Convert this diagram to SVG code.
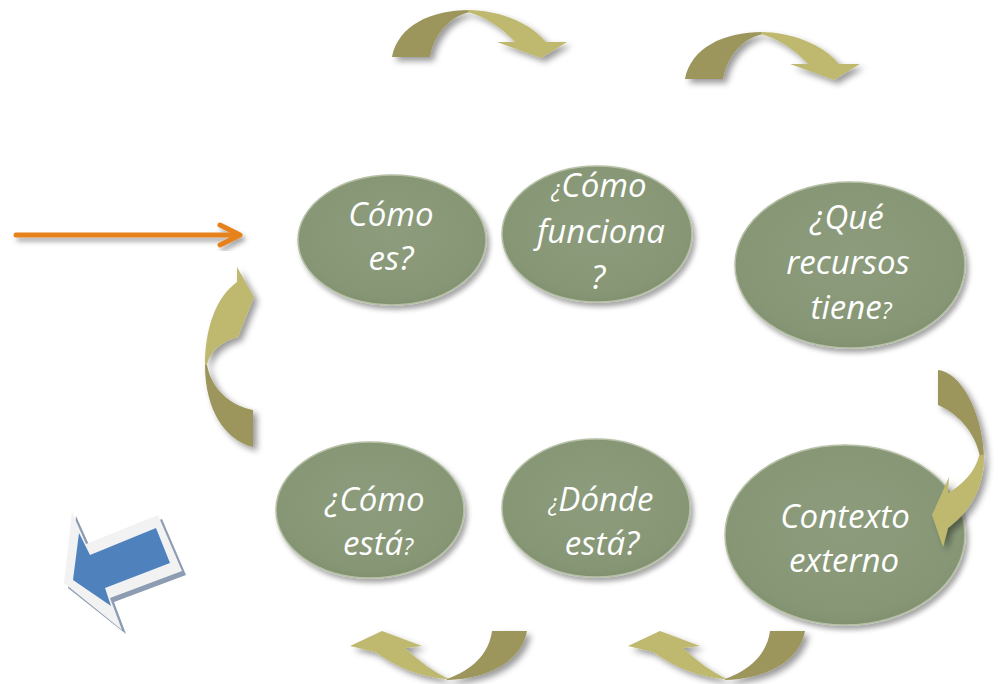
<svg xmlns="http://www.w3.org/2000/svg" width="998" height="684" viewBox="0 0 998 684">
<defs>
  <radialGradient id="eg" cx="50%" cy="45%" r="60%">
    <stop offset="0" stop-color="#8c9c7c"/>
    <stop offset="0.8" stop-color="#879776"/>
    <stop offset="1" stop-color="#7e8e6c"/>
  </radialGradient>
  <filter id="sh" x="-20%" y="-20%" width="150%" height="150%">
    <feDropShadow dx="3" dy="4" stdDeviation="2.5" flood-color="#000" flood-opacity="0.35"/>
  </filter>
  <filter id="ash" x="-30%" y="-30%" width="170%" height="170%">
    <feDropShadow dx="4" dy="4" stdDeviation="3" flood-color="#000" flood-opacity="0.4"/>
  </filter>
  <style>
    .node ellipse { fill: url(#eg); stroke: #b6c0a6; stroke-width: 1.5; filter: url(#sh); }
    .node text { font-family: "Open Sans", "Noto Sans", sans-serif; font-style: italic; font-size: 33px; fill: #ffffff; text-anchor: middle; }
    .sm { font-size: 23px; }
    .dk { fill: #9d965c; }
    .lt { fill: #bfb970; }
  </style>
</defs>

<g id="n1" class="node">
  <ellipse cx="392" cy="240" rx="94" ry="65"/>
  <text x="391" y="226">Cómo</text>
  <text x="391" y="270">es?</text>
</g>
<g id="n2" class="node">
  <ellipse cx="597" cy="234" rx="95" ry="68"/>
  <text x="599" y="197"><tspan class="sm">¿</tspan>Cómo</text>
  <text x="601" y="243">funciona</text>
  <text x="598" y="289">?</text>
</g>
<g id="n3" class="node">
  <ellipse cx="850" cy="265" rx="115" ry="83"/>
  <text x="847" y="229">¿Qué</text>
  <text x="848" y="274">recursos</text>
  <text x="851" y="319">tiene<tspan class="sm">?</tspan></text>
</g>
<g id="n4" class="node">
  <ellipse cx="370" cy="510" rx="94" ry="68"/>
  <text x="375" y="511">¿Cómo</text>
  <text x="378" y="555">está<tspan class="sm">?</tspan></text>
</g>
<g id="n5" class="node">
  <ellipse cx="596" cy="508" rx="94" ry="69"/>
  <text x="601" y="511"><tspan class="sm">¿</tspan>Dónde</text>
  <text x="602" y="555">está?</text>
</g>
<g id="n6" class="node">
  <ellipse cx="845" cy="535" rx="120" ry="90"/>
  <text x="845" y="528">Contexto</text>
  <text x="844" y="572">externo</text>
</g>

<g id="connectors">
  <g id="arrow-top-1" filter="url(#ash)">
    <path class="dk" d="M392,57 C398,26 430,10 470,10 L470,12 C450,16 434,34 430,57 Z"/>
    <path class="lt" d="M468,10 C497,10 530,22 546,42 L567,42 L541,58 L497,42 L515,42 C502,28 486,17 468,12 Z"/>
  </g>
  <g id="arrow-top-2" filter="url(#ash)" transform="translate(293,22)">
    <path class="dk" d="M392,57 C398,26 430,10 470,10 L470,12 C450,16 434,34 430,57 Z"/>
    <path class="lt" d="M468,10 C497,10 530,22 546,42 L567,42 L541,58 L497,42 L515,42 C502,28 486,17 468,12 Z"/>
  </g>
  <g id="arrow-right" filter="url(#ash)">
    <path class="dk" d="M938,370 C960,372 982,410 984,456 L980,457 C975,430 955,412 938,405 Z"/>
    <path class="lt" d="M984,454 C985,485 972,510 948,528 L943,547 L932,515 L949,477 L948,493 C962,485 975,472 979,456 Z"/>
  </g>
  <g id="arrow-bottom-1" filter="url(#ash)">
    <path class="dk" d="M447,679 C472,670 489,654 492,631 L527,631 C522,660 490,679 447,680 Z"/>
    <path class="lt" d="M449,679 C420,678 395,666 375,652 L350,646 L382,631 L422,646 L405,648 C420,662 434,672 449,679 Z"/>
  </g>
  <g id="arrow-bottom-2" filter="url(#ash)" transform="translate(278,0)">
    <path class="dk" d="M447,679 C472,670 489,654 492,631 L527,631 C522,660 490,679 447,680 Z"/>
    <path class="lt" d="M449,679 C420,678 395,666 375,652 L350,646 L382,631 L422,646 L405,648 C420,662 434,672 449,679 Z"/>
  </g>
  <g id="arrow-left" filter="url(#ash)">
    <path class="dk" d="M205,365 C205,410 225,440 253,447 L253,410 C230,405 212,390 207,365 Z"/>
    <path class="lt" d="M205,365 C205,330 215,298 237,282 L237,267 L254,297 L238,337 C225,340 210,350 207,365 Z"/>
  </g>
  <g id="arrow-orange" filter="url(#sh)" fill="none" stroke="#e6821c" stroke-width="5" stroke-linecap="round" stroke-linejoin="round">
    <line x1="16" y1="235" x2="238" y2="235"/>
    <polyline points="220,225 240,235 220,245"/>
  </g>
  <g id="arrow-blue">
    <polygon points="68,588 76,516 90,547 162,519 186,575 114,602 126,634" fill="#8c9cb2"/>
    <polygon points="64,583 72,512 86,544 158,515 182,571 110,598 122,630" fill="#f2f2f2"/>
    <polygon points="73,580 79,533 90,555 156,528 170,563 105,588 111,606" fill="#4f81bd"/>
  </g>
</g>
</svg>
